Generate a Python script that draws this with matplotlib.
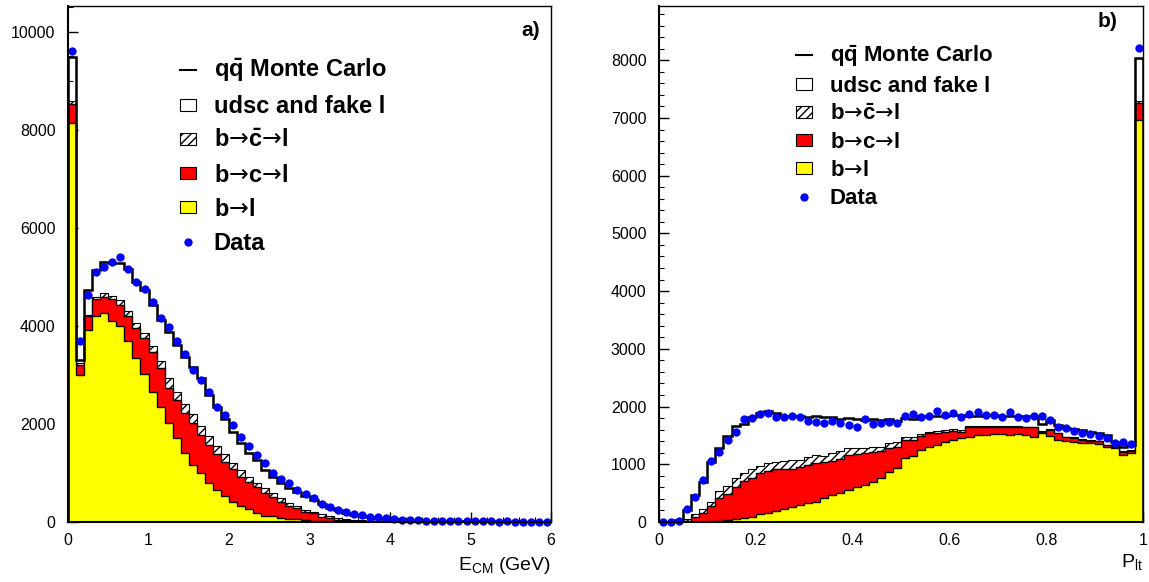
import numpy as np
import matplotlib
matplotlib.use("Agg")
import matplotlib.pyplot as plt
from matplotlib.patches import Patch
from matplotlib.lines import Line2D
from matplotlib.ticker import MultipleLocator, FormatStrFormatter

plt.rcParams["font.family"] = ["Liberation Sans", "DejaVu Sans"]
plt.rcParams["mathtext.fontset"] = "custom"
plt.rcParams["mathtext.rm"] = "Liberation Sans"
plt.rcParams["mathtext.bf"] = "Liberation Sans:bold"
plt.rcParams["mathtext.it"] = "Liberation Sans:italic"
plt.rcParams["mathtext.cal"] = "DejaVu Sans"   # used only for the arrows
plt.rcParams["hatch.linewidth"] = 1.0

# ── a) lepton energy in the CM frame, 60 bins 0..6 GeV ──────────
ecm_edges = np.linspace(0, 6, 61)
ecm_bl = [8140, 3000, 3920, 4200, 4260, 4100, 3990, 3680, 3340, 3020,
          2660, 2350, 2010, 1710, 1400, 1160, 990, 790, 650, 520,
          415, 330, 260, 180, 130, 115, 90, 70, 55, 40,
          30, 22, 16, 12, 9, 7, 5, 4, 3, 2,
          2, 1, 1, 1, 1, 1, 0, 0, 0, 0,
          0, 0, 0, 0, 0, 0, 0, 0, 0, 0]
ecm_bcl = [390, 200, 270, 340, 320, 440, 440, 520, 610, 730,
           815, 780, 730, 780, 820, 850, 790, 780, 740, 710,
           660, 595, 560, 530, 455, 402, 310, 256, 225, 160,
           147, 88, 64, 38, 26, 18, 13, 9, 7, 5,
           3, 3, 2, 2, 2, 1, 1, 1, 1, 0,
           0, 0, 0, 0, 0, 0, 0, 0, 0, 0]
ecm_bcbarl = [45, 40, 20, 40, 80, 60, 100, 110, 100, 110,
              120, 150, 190, 170, 190, 190, 180, 180, 150, 160,
              135, 135, 105, 80, 100, 81, 83, 69, 46, 45,
              34, 50, 40, 35, 25, 20, 14, 11, 8, 6,
              5, 4, 3, 3, 2, 2, 2, 1, 1, 1,
              1, 1, 0, 0, 0, 0, 0, 0, 0, 0]
ecm_udsc = [895, 60, 510, 550, 650, 690, 750, 840, 850, 870,
            835, 840, 950, 950, 960, 950, 970, 840, 810, 700,
            630, 560, 490, 475, 375, 322, 317, 305, 284, 275,
            229, 200, 170, 150, 130, 105, 88, 71, 62, 52,
            45, 37, 34, 29, 25, 23, 21, 19, 16, 15,
            13, 11, 11, 10, 9, 8, 7, 6, 5, 5]
ecm_data = [9600, 3680, 4630, 5090, 5200, 5310, 5400, 5160, 4890, 4750,
            4480, 4155, 3980, 3700, 3420, 3090, 2900, 2650, 2340, 2180,
            1980, 1740, 1540, 1370, 1200, 990, 880, 790, 650, 565,
            495, 360, 315, 245, 210, 165, 145, 95, 110, 75,
            60, 50, 40, 45, 30, 28, 25, 20, 22, 18,
            15, 15, 12, 10, 12, 8, 10, 8, 6, 8]

# ── b) P_lt, 60 bins 0..1 ───────────────────────────────────────
plt_edges = np.linspace(0, 1, 61)
plt_bl = [0, 0, 0, 3, 5, 8, 15, 25, 35, 46,
          75, 92, 133, 162, 191, 220, 254, 289, 323, 350,
          410, 468, 508, 555, 601, 641, 699, 760, 860, 940,
          1103, 1144, 1248, 1306, 1335, 1392, 1421, 1450, 1479, 1508,
          1508, 1520, 1520, 1508, 1525, 1508, 1467, 1537, 1490, 1421,
          1404, 1392, 1370, 1360, 1346, 1306, 1277, 1161, 1190, 6967]
plt_bcl = [0, 0, 3, 17, 75, 142, 255, 385, 455, 554,
           635, 678, 712, 728, 719, 690, 671, 658, 665, 678,
           636, 595, 590, 606, 578, 549, 520, 476, 420, 366,
           318, 277, 242, 231, 202, 174, 162, 116, 162, 144,
           133, 121, 121, 133, 116, 133, 174, 29, 105, 116,
           63, 58, 51, 50, 49, 24, 23, 58, 40, 289]
plt_bcbarl = [0, 0, 5, 25, 55, 75, 85, 130, 140, 160,
              133, 143, 126, 127, 136, 140, 150, 133, 144, 133,
              104, 127, 138, 116, 101, 95, 81, 70, 83, 86,
              49, 59, 40, 23, 33, 29, 27, 34, 24, 18,
              19, 19, 14, 14, 14, 9, 9, 14, 15, 13,
              13, 15, 14, 15, 15, 10, 10, 11, 15, 34]
plt_udsc = [0, 0, 22, 165, 335, 475, 685, 740, 860, 910,
            847, 913, 912, 913, 837, 793, 768, 757, 682, 676,
            664, 624, 549, 519, 499, 483, 479, 462, 416, 364,
            330, 300, 300, 280, 270, 245, 240, 250, 175, 170,
            190, 190, 185, 185, 175, 180, 180, 120, 150, 130,
            150, 145, 165, 135, 130, 160, 80, 70, 85, 746]
plt_data = [2, 3, 25, 220, 440, 730, 1060, 1220, 1420, 1565,
            1780, 1800, 1870, 1895, 1826, 1826, 1837, 1826, 1756, 1733,
            1721, 1750, 1721, 1681, 1652, 1779, 1698, 1722, 1739, 1722,
            1837, 1866, 1826, 1837, 1930, 1854, 1883, 1814, 1872, 1901,
            1849, 1854, 1814, 1901, 1826, 1797, 1837, 1843, 1768, 1652,
            1635, 1577, 1548, 1519, 1490, 1450, 1375, 1381, 1346, 8210]

ARROW = r"$\mathcal{→}$"
LABELS = [r"$\mathbf{q\bar{q}}$ Monte Carlo", "udsc and fake l",
          "b" + ARROW + r"$\mathbf{\bar{c}}$" + ARROW + "l",
          "b" + ARROW + "c" + ARROW + "l",
          "b" + ARROW + "l", "Data"]

YELLOW = "#ffff00"
RED = "#ff0000"
BLUE = "#0000ff"


def draw_panel(ax, edges, bl, bcl, bcbarl, udsc, data):
    bl = np.asarray(bl, float)
    top_red = bl + np.asarray(bcl, float)
    top_hatch = top_red + np.asarray(bcbarl, float)
    total = top_hatch + np.asarray(udsc, float)

    # stack drawn from the top layer down, each filled from zero
    ax.stairs(total, edges, fill=True, facecolor="white", edgecolor="black",
              lw=0.8, zorder=1)
    ax.stairs(top_hatch, edges, fill=True, facecolor="white", edgecolor="black",
              hatch="////", lw=0.8, zorder=2)
    ax.stairs(top_red, edges, fill=True, facecolor=RED, edgecolor="black",
              lw=1.0, zorder=3)
    ax.stairs(bl, edges, fill=True, facecolor=YELLOW, edgecolor="black",
              lw=1.0, zorder=4)
    ax.stairs(total, edges, fill=False, edgecolor="black", lw=1.8, zorder=5)

    centers = 0.5 * (edges[:-1] + edges[1:])
    ax.plot(centers, data, "o", color=BLUE, ms=6, mec="none", zorder=6,
            clip_on=False)

    ax.tick_params(which="both", direction="in", top=False, right=False,
                   labelsize=11.5)
    ax.tick_params(which="major", length=7, width=1)
    ax.tick_params(which="minor", length=3.5, width=0.8)
    ax.tick_params(axis="y", pad=9)
    ax.tick_params(axis="x", pad=8)
    for side in ["left", "bottom"]:
        ax.spines[side].set_linewidth(1.5)
    for side in ["top", "right"]:
        ax.spines[side].set_linewidth(1.0)
    for sp in ax.spines.values():
        sp.set_zorder(7)


def add_legend(ax, x, y, size, spacing):
    handles = [
        Line2D([], [], color="black", lw=1.5),
        Patch(facecolor="white", edgecolor="black", lw=0.8),
        Patch(facecolor="white", edgecolor="black", hatch="////", lw=0.8),
        Patch(facecolor=RED, edgecolor="black", lw=0.8),
        Patch(facecolor=YELLOW, edgecolor="black", lw=0.8),
        Line2D([], [], ls="none", marker="o", color=BLUE, ms=6, mec="none"),
    ]
    em = size * 100 / 72.0          # font size in pixels
    ax.legend(handles, LABELS, loc="upper left", bbox_to_anchor=(x, y),
              frameon=False, borderpad=0, borderaxespad=0,
              handlelength=16 / em, handleheight=10 / em,
              handletextpad=17.5 / em, labelspacing=spacing,
              prop={"family": ["Liberation Sans", "DejaVu Sans"],
                    "weight": "bold", "size": size})


fig = plt.figure(figsize=(11.49, 5.82), dpi=100)
ax1 = fig.add_axes([0.0592, 0.1031, 0.4204, 0.8866])
ax2 = fig.add_axes([0.5735, 0.1031, 0.4212, 0.8866])

# ── panel a ──────────────────────────────────────────────────────
draw_panel(ax1, ecm_edges, ecm_bl, ecm_bcl, ecm_bcbarl, ecm_udsc, ecm_data)
ax1.set_xlim(0, 6)
ax1.set_ylim(0, 10520)
ax1.xaxis.set_major_locator(MultipleLocator(1))
ax1.xaxis.set_minor_locator(MultipleLocator(0.2))
ax1.yaxis.set_major_locator(MultipleLocator(2000))
ax1.yaxis.set_minor_locator(MultipleLocator(500))
ax1.set_xlabel(r"E$_{\mathrm{CM}}$ (GeV)", loc="right", fontsize=14, labelpad=5)
ax1.text(0.977, 0.953, "a)", transform=ax1.transAxes, ha="right", va="center",
         fontsize=15, fontweight="bold")
add_legend(ax1, 0.232, 0.901, 17, 0.47)

# ── panel b ──────────────────────────────────────────────────────
draw_panel(ax2, plt_edges, plt_bl, plt_bcl, plt_bcbarl, plt_udsc, plt_data)
ax2.set_xlim(0, 1)
ax2.set_ylim(0, 8940)
ax2.xaxis.set_major_locator(MultipleLocator(0.2))
ax2.xaxis.set_minor_locator(MultipleLocator(0.05))
ax2.xaxis.set_major_formatter(FormatStrFormatter("%g"))
ax2.yaxis.set_major_locator(MultipleLocator(1000))
ax2.yaxis.set_minor_locator(MultipleLocator(200))
ax2.set_xlabel(r"P$_{\mathrm{lt}}$", loc="right", fontsize=14, labelpad=3)
ax2.text(0.948, 0.969, "b)", transform=ax2.transAxes, ha="right", va="center",
         fontsize=15, fontweight="bold")
add_legend(ax2, 0.2835, 0.929, 16, 0.32)

fig.savefig("out.png", dpi=100)
